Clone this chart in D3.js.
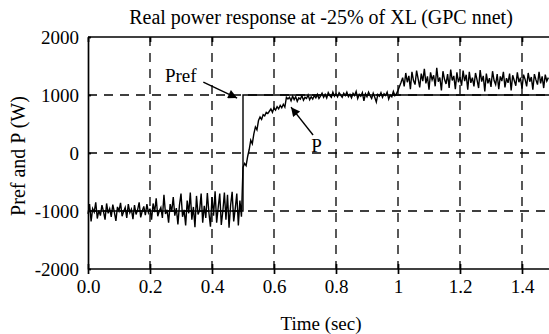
<!DOCTYPE html>
<html>
<head>
<meta charset="utf-8">
<script src="https://cdn.jsdelivr.net/npm/d3@7"></script>
<style>
  body { margin: 0; background: #fff; }
  svg text { font-family: "Liberation Serif", "DejaVu Serif", serif; }
</style>
</head>
<body>
<div id="chart"></div>
<script>
// sample step of the measured signal (sec)
const dt = 0.005;

const pBefore = [
  -1050, -880, -1180, -960, -1020, -850, -1130, -990, -1080, -900, -1010, -1150, -870, -1040, -960, -1100, -890, -1020, -1170, -930,
  -1000, -860, -1090, -1010, -940, -1120, -880, -1030, -970, -1140, -900, -1060, -980, -850, -1110, -1000, -920, -1070, -880, -1030,
  -960, -1150, -870, -1020, -780, -1090, -1000, -940, -1120, -720, -1050, -980, -1200, -880, -1010, -760, -1080, -950, -1230, -900,
  -700, -1100, -980, -1250, -820, -1040, -680, -1150, -930, -1280, -740, -1060, -990, -700, -1200, -910, -1120, -690, -1030, -1270,
  -760, -1080, -660, -1200, -940, -700, -1240, -1000, -680, -1150, -720, -1290, -900, -670, -1180, -960, -700, -1250, -820, -1100
];
const pRise = [
  -250, -180, -220, -60, 60, 220, 160, 330, 450, 400, 560, 620, 580, 660, 640,
  700, 680, 720, 760, 700, 780, 740, 800, 760, 820, 780, 840, 790, 960, 930
];
const pSettle = [
  960, 900, 980, 920, 970, 890, 950, 930, 990, 910, 960, 940, 1000, 920, 970, 930, 990, 950, 1010, 940,
  980, 1030, 960, 1010, 950, 1040, 990, 960, 1050, 980, 1020, 970, 1040, 1000, 960, 1030, 990, 1050, 970, 1010,
  950, 1030, 990, 1060, 940, 1010, 980, 1040, 900, 1020, 970, 1050, 990, 940, 1030, 960, 880, 1010, 980, 1040,
  960, 1020, 990, 1050, 930, 1000, 970, 1060, 990, 1020, 1080, 1150, 1220
];
const pHigh = [
  1300, 1150, 1380, 1220, 1330, 1100, 1400, 1250, 1180, 1420, 1280, 1130, 1370, 1240, 1450, 1200, 1320, 1090, 1390, 1260,
  1340, 1150, 1470, 1230, 1300, 1080, 1410, 1270, 1190, 1360, 1120, 1440, 1250, 1330, 1100, 1390, 1220, 1310, 1160, 1420,
  1240, 1350, 1090, 1400, 1210, 1300, 1150, 1380, 1260, 1120, 1430, 1230, 1330, 1060, 1370, 1200, 1290, 1140, 1410, 1250,
  1180, 1360, 1100, 1320, 1240, 1400, 1130, 1290, 1210, 1370, 1080, 1340, 1250, 1160, 1390, 1220, 1300, 1110, 1350, 1270,
  1150, 1380, 1230, 1310, 1090, 1360, 1260, 1180, 1400, 1200, 1320, 1120, 1350, 1240, 1300
];

// reference step
const prefTime = [0, 0.5, 0.5, 1.5];
const prefValue = [-1000, -1000, 1000, 1000];

const xTicks = [0, 0.2, 0.4, 0.6, 0.8, 1, 1.2, 1.4];
const xTickLabels = ["0.0", "0.2", "0.4", "0.6", "0.8", "1", "1.2", "1.4"];
const yTicks = [2000, 1000, 0, -1000, -2000];
const yTickLabels = ["2000", "1000", "0", "-1000", "-2000"];

const W = 549, H = 334;
const FONT = "'Liberation Serif', 'DejaVu Serif', serif";
const svg = d3.select("#chart").append("svg")
  .attr("width", W)
  .attr("height", H)
  .attr("font-family", FONT);

const x = d3.scaleLinear().domain([0, 1.5]).range([88, 553]);
const y = d3.scaleLinear().domain([-2000, 2000]).range([269, 37]);

const pValues = pBefore.concat(pRise, pSettle, pHigh);
const pData = pValues.map((v, i) => ({ t: i * dt, v: v }));
const prefData = prefTime.map((t, i) => ({ t: t, v: prefValue[i] }));

// grid
svg.append("g").selectAll("line")
  .data(xTicks.slice(1))
  .enter().append("line")
  .attr("x1", d => x(d)).attr("x2", d => x(d))
  .attr("y1", y(2000)).attr("y2", y(-2000))
  .attr("stroke", "#000").attr("stroke-width", 1.3)
  .attr("stroke-dasharray", "9,7");

svg.append("g").selectAll("line")
  .data([1000, 0, -1000])
  .enter().append("line")
  .attr("x1", x(0)).attr("x2", W)
  .attr("y1", d => y(d)).attr("y2", d => y(d))
  .attr("stroke", "#000").attr("stroke-width", 1.3)
  .attr("stroke-dasharray", "9,7");

// traces
const line = d3.line().x(d => x(d.t)).y(d => y(d.v));

svg.append("path")
  .datum(pData)
  .attr("d", line)
  .attr("fill", "none")
  .attr("stroke", "#000")
  .attr("stroke-width", 1.4);

svg.append("path")
  .datum(prefData)
  .attr("d", line)
  .attr("fill", "none")
  .attr("stroke", "#000")
  .attr("stroke-width", 1.4);

// axes
const xAxis = d3.axisBottom(x).tickValues(xTicks)
  .tickFormat((d, i) => xTickLabels[i]).tickSizeInner(5).tickSizeOuter(0).tickPadding(6);
const gx = svg.append("g")
  .attr("transform", `translate(0,${y(-2000)})`)
  .call(xAxis);

const yAxis = d3.axisLeft(y).tickValues(yTicks)
  .tickFormat((d, i) => yTickLabels[i]).tickSizeInner(6).tickSizeOuter(0).tickPadding(3);
const gy = svg.append("g")
  .attr("transform", `translate(${x(0)},0)`)
  .call(yAxis);

// top frame with inward ticks
const gTop = svg.append("g")
  .attr("transform", `translate(0,${y(2000)})`)
  .call(d3.axisTop(x).tickValues(xTicks).tickFormat("").tickSizeInner(-5).tickSizeOuter(0));

[gx, gy, gTop].forEach(g => {
  g.attr("font-family", FONT).attr("font-size", 19);
  g.select(".domain").attr("stroke", "#000").attr("stroke-width", 1.7);
  g.selectAll(".tick line").attr("stroke", "#000").attr("stroke-width", 1.7);
  g.selectAll(".tick text").attr("fill", "#000");
});
gx.select(".domain").attr("d", `M${x(0)},0H${W}`);
gTop.select(".domain").attr("d", `M${x(0)},0H${W}`);
// ticks crossing the bottom axis
gx.selectAll(".tick line").attr("y1", -5);
gy.selectAll(".tick line").attr("x2", 3);

// titles
svg.append("text")
  .attr("x", 321).attr("y", 24)
  .attr("text-anchor", "middle")
  .attr("font-size", 20)
  .text("Real power response at -25% of XL (GPC nnet)");

svg.append("text")
  .attr("x", 321).attr("y", 330)
  .attr("text-anchor", "middle")
  .attr("font-size", 19)
  .text("Time (sec)");

svg.append("text")
  .attr("transform", `translate(25,${y(0) + 3}) rotate(-90)`)
  .attr("text-anchor", "middle")
  .attr("font-size", 20)
  .text("Pref and P (W)");

// annotations
svg.append("defs").append("marker")
  .attr("id", "head")
  .attr("viewBox", "0 0 10 10")
  .attr("refX", 10).attr("refY", 5)
  .attr("markerWidth", 14).attr("markerHeight", 9)
  .attr("markerUnits", "userSpaceOnUse")
  .attr("orient", "auto")
  .append("path")
  .attr("d", "M0,0L10,5L0,10Z")
  .attr("fill", "#000");

const notes = [
  { label: "Pref", tx: 0.248, tv: 1224, from: [0.372, 1224], to: [0.481, 948] },
  { label: "P", tx: 0.72, tv: 17, from: [0.726, 310], to: [0.655, 790] }
];

notes.forEach(n => {
  svg.append("text")
    .attr("x", x(n.tx)).attr("y", y(n.tv))
    .attr("font-size", 19)
    .text(n.label);
  svg.append("line")
    .attr("x1", x(n.from[0])).attr("y1", y(n.from[1]))
    .attr("x2", x(n.to[0])).attr("y2", y(n.to[1]))
    .attr("stroke", "#000").attr("stroke-width", 1.4)
    .attr("marker-end", "url(#head)");
});
</script>
</body>
</html>
